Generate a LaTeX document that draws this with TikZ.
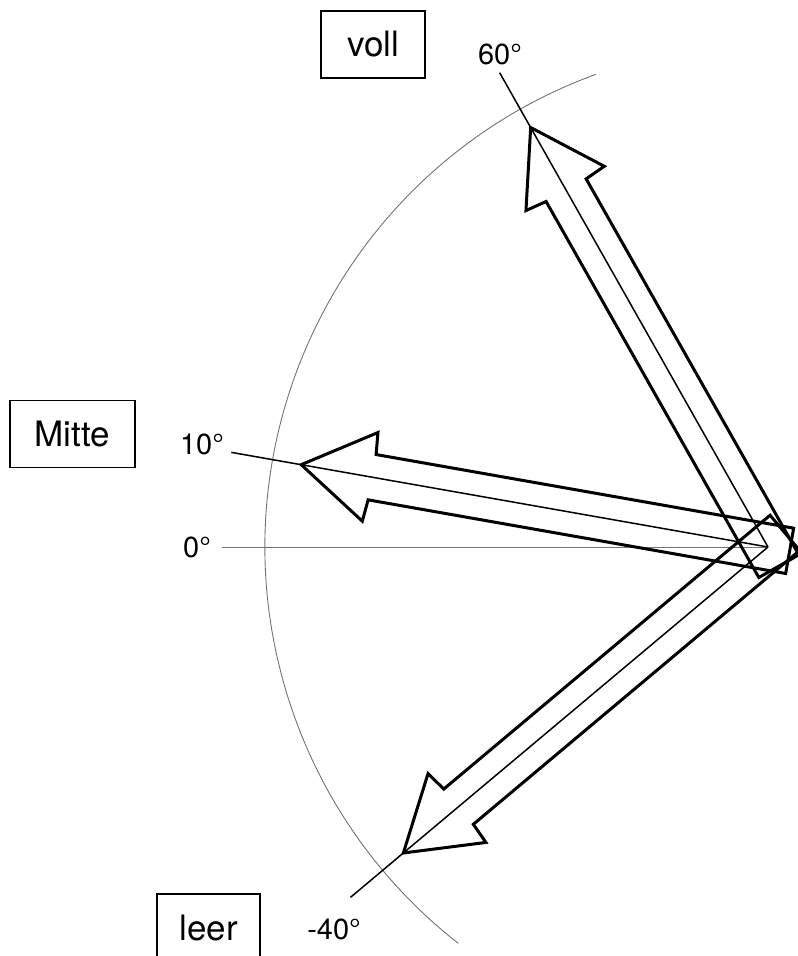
\documentclass[tikz,border=0pt]{standalone}
\usepackage{fontspec}
\setmainfont{TeX Gyre Heros}
\begin{document}
\begin{tikzpicture}[x=1pt,y=1pt,
  arrowshape/.style={line width=3pt, line join=miter},
  radial/.style={line width=1.5pt},
  grayline/.style={line width=0.9pt, draw=black!55},
  labelbox/.style={draw, line width=1.6pt, minimum height=67pt, inner sep=0pt, font=\fontsize{35}{40}\selectfont},
  anglabel/.style={inner sep=0pt, font=\fontsize{29}{33}\selectfont}]
\useasboundingbox (0,0) rectangle (798,-956);
\clip (0,0) rectangle (798,-956);
\coordinate (O) at (768,-547);
% arc and zero line
\draw[grayline] (O) ++(110:503) arc[start angle=110, end angle=232, radius=503];
\draw[grayline] (O) -- ++(180:546) coordinate (e0);
% radial lines
\draw[radial] (O) -- ++(119.5:545) coordinate (e60);
\draw[radial] (O) -- ++(170:545) coordinate (e10);
\draw[radial] (O) -- ++(220:545) coordinate (em40);
% hollow arrows
\foreach \a/\len in {119.5/482, 170/474, 220/476}{
  \begin{scope}[shift={(O)}, rotate=\a]
    \draw[arrowshape] (\len,0) -- ({\len-70},45) -- ({\len-72},23) -- (-22,23)
      -- (-22,-23) -- ({\len-72},-23) -- ({\len-70},-45) -- cycle;
  \end{scope}
}
% boxes
\node[labelbox, minimum width=104pt] (voll) at (373,-44.5) {voll};
\node[labelbox, minimum width=125pt] (mitte) at (72.5,-434) {Mitte};
\node[labelbox, minimum width=103pt] (leer) at (208.5,-927.5) {leer};
% angle labels
\node[anglabel] (l60) at (500,-54) {60°};
\node[anglabel] (l10) at (202,-444) {10°};
\node[anglabel] (l0) at (197,-547) {0°};
\node[anglabel] (lm40) at (334,-929) {-40°};
\end{tikzpicture}
\end{document}
